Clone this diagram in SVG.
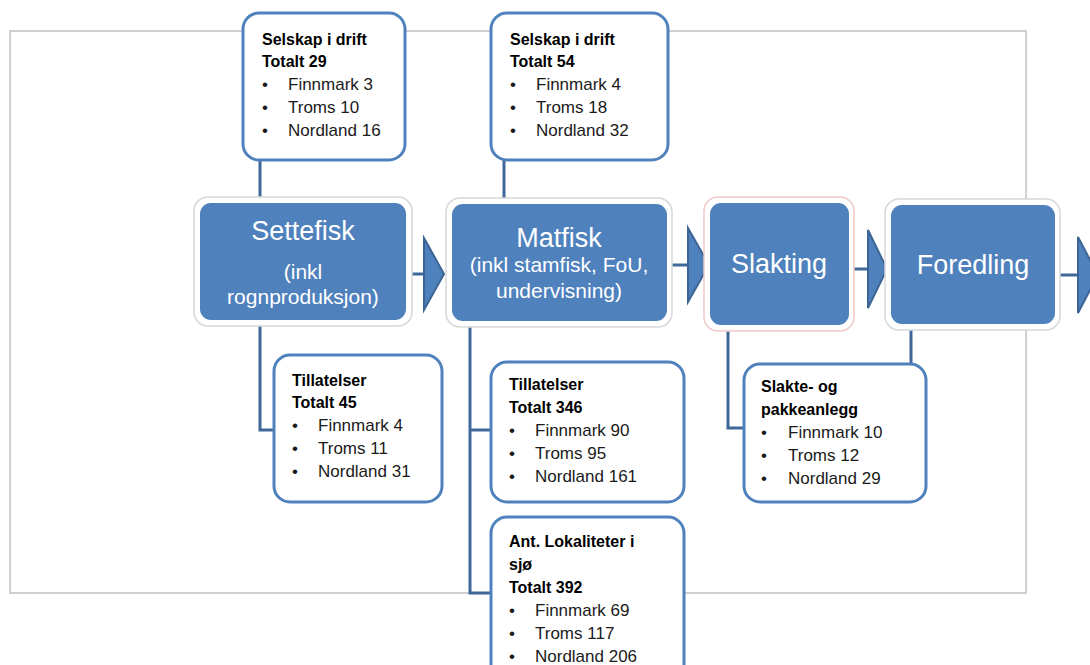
<svg xmlns="http://www.w3.org/2000/svg" width="1090" height="665" viewBox="0 0 1090 665">
<style>
.frame{fill:none;stroke:#cfcfcf;stroke-width:2}
.outer{fill:#ffffff;stroke:#d8d8d8;stroke-width:1.5}
.main{fill:#4f81bd}
.mt{fill:#ffffff;font-family:"Liberation Sans",Arial,sans-serif;text-anchor:middle}
.call{fill:#ffffff;stroke:#4f81bd;stroke-width:3}
.ct{font-family:"Liberation Sans",Arial,sans-serif;font-size:17px;fill:#1a1a1a}
.cb{font-family:"Liberation Sans",Arial,sans-serif;font-size:16px;font-weight:bold;fill:#000}
.conn{fill:none;stroke:#3f679a;stroke-width:3}
.arr{fill:#4f81bd;stroke:#3c6595;stroke-width:2;stroke-linejoin:miter}
</style>
<rect class="frame" x="10" y="31" width="1016" height="562"/>
<g id="connectors">
<path class="conn" d="M260 158V198"/>
<path class="conn" d="M260 325V430H276"/>
<path class="conn" d="M504 158V199"/>
<path class="conn" d="M470 326V593H492"/>
<path class="conn" d="M470 430H492"/>
<path class="conn" d="M728 330V428H746"/>
<path class="conn" d="M911 329V364"/>
<path class="conn" d="M406 274H425"/>
<polygon class="arr" points="424,238 444,274 424,310"/>
<path class="conn" d="M667 265H689"/>
<polygon class="arr" points="688,228 709,265 688,302"/>
<path class="conn" d="M850 269H869"/>
<polygon class="arr" points="868,230 887,269 868,308"/>
<path class="conn" d="M1056 275H1079"/>
<polygon class="arr" points="1078,237 1098,275 1078,313"/>
</g>
<g id="settefisk">
<rect class="outer" x="194" y="197" width="218" height="129" rx="14"/>
<rect class="main" x="200" y="203" width="206" height="117" rx="11"/>
<text class="mt" x="303" y="240" font-size="27">Settefisk</text>
<text class="mt" x="303" y="279" font-size="21">(inkl</text>
<text class="mt" x="303" y="304" font-size="21">rognproduksjon)</text>
</g>
<g id="matfisk">
<rect class="outer" x="446" y="198" width="226" height="129" rx="14"/>
<rect class="main" x="452" y="204" width="215" height="117" rx="11"/>
<text class="mt" x="559" y="247" font-size="27">Matfisk</text>
<text class="mt" x="559" y="272" font-size="21">(inkl stamfisk, FoU,</text>
<text class="mt" x="559" y="298" font-size="21">undervisning)</text>
</g>
<g id="slakting">
<rect class="outer" x="704" y="197" width="150" height="134" rx="14" style="stroke:#f0c8c8"/>
<rect class="main" x="710" y="203" width="139" height="122" rx="11"/>
<text class="mt" x="779" y="273" font-size="27">Slakting</text>
</g>
<g id="foredling">
<rect class="outer" x="885" y="199" width="175" height="131" rx="14"/>
<rect class="main" x="891" y="205" width="164" height="119" rx="11"/>
<text class="mt" x="973" y="274" font-size="27">Foredling</text>
</g>
<g id="selskap-settefisk">
<rect class="call" x="243" y="13" width="162" height="147" rx="16"/>
<text class="cb" x="262" y="45">Selskap i drift</text>
<text class="cb" x="262" y="67">Totalt 29</text>
<text class="ct" x="262" y="90">•</text><text class="ct" x="288" y="90">Finnmark 3</text>
<text class="ct" x="262" y="113">•</text><text class="ct" x="288" y="113">Troms 10</text>
<text class="ct" x="262" y="136">•</text><text class="ct" x="288" y="136">Nordland 16</text>
</g>
<g id="selskap-matfisk">
<rect class="call" x="491" y="13" width="177" height="147" rx="16"/>
<text class="cb" x="510" y="45">Selskap i drift</text>
<text class="cb" x="510" y="67">Totalt 54</text>
<text class="ct" x="510" y="90">•</text><text class="ct" x="536" y="90">Finnmark 4</text>
<text class="ct" x="510" y="113">•</text><text class="ct" x="536" y="113">Troms 18</text>
<text class="ct" x="510" y="136">•</text><text class="ct" x="536" y="136">Nordland 32</text>
</g>
<g id="tillatelser-settefisk">
<rect class="call" x="274" y="355" width="168" height="147" rx="16"/>
<text class="cb" x="292" y="386">Tillatelser</text>
<text class="cb" x="292" y="408">Totalt 45</text>
<text class="ct" x="292" y="431">•</text><text class="ct" x="318" y="431">Finnmark 4</text>
<text class="ct" x="292" y="454">•</text><text class="ct" x="318" y="454">Troms 11</text>
<text class="ct" x="292" y="477">•</text><text class="ct" x="318" y="477">Nordland 31</text>
</g>
<g id="tillatelser-matfisk">
<rect class="call" x="491" y="362" width="193" height="140" rx="16"/>
<text class="cb" x="509" y="390">Tillatelser</text>
<text class="cb" x="509" y="413">Totalt 346</text>
<text class="ct" x="509" y="436">•</text><text class="ct" x="535" y="436">Finnmark 90</text>
<text class="ct" x="509" y="459">•</text><text class="ct" x="535" y="459">Troms 95</text>
<text class="ct" x="509" y="482">•</text><text class="ct" x="535" y="482">Nordland 161</text>
</g>
<g id="lokaliteter">
<rect class="call" x="491" y="517" width="193" height="165" rx="16"/>
<text class="cb" x="509" y="547">Ant. Lokaliteter i</text>
<text class="cb" x="509" y="570">sjø</text>
<text class="cb" x="509" y="593">Totalt 392</text>
<text class="ct" x="509" y="616">•</text><text class="ct" x="535" y="616">Finnmark 69</text>
<text class="ct" x="509" y="639">•</text><text class="ct" x="535" y="639">Troms 117</text>
<text class="ct" x="509" y="662">•</text><text class="ct" x="535" y="662">Nordland 206</text>
</g>
<g id="slakteanlegg">
<rect class="call" x="744" y="364" width="182" height="138" rx="16"/>
<text class="cb" x="761" y="392">Slakte- og</text>
<text class="cb" x="761" y="415">pakkeanlegg</text>
<text class="ct" x="761" y="438">•</text><text class="ct" x="788" y="438">Finnmark 10</text>
<text class="ct" x="761" y="461">•</text><text class="ct" x="788" y="461">Troms 12</text>
<text class="ct" x="761" y="484">•</text><text class="ct" x="788" y="484">Nordland 29</text>
</g>
</svg>
